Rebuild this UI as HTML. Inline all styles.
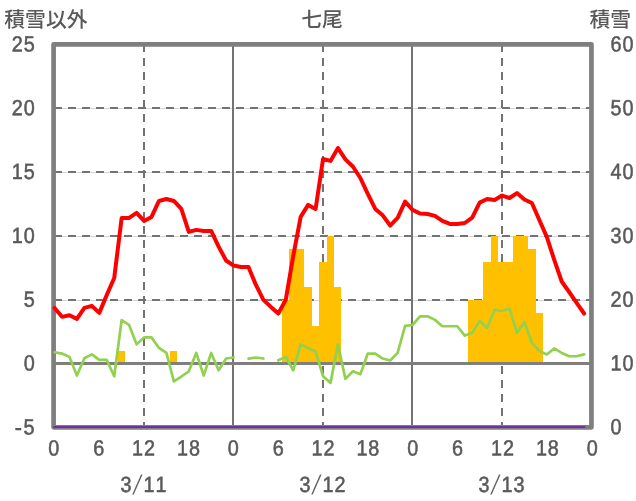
<!DOCTYPE html>
<html lang="ja"><head><meta charset="utf-8"><title>七尾</title>
<style>html,body{margin:0;padding:0;background:#fff}svg{display:block}</style></head>
<body>
<svg width="636" height="501" viewBox="0 0 636 501">
<rect width="636" height="501" fill="#fff"/>
<line x1="54" y1="108.5" x2="591.45" y2="108.5" stroke="#d9d9d9" stroke-width="1"/>
<line x1="54" y1="108" x2="591.45" y2="108" stroke="#737373" stroke-width="2" stroke-dasharray="8 6"/>
<line x1="54" y1="172.5" x2="591.45" y2="172.5" stroke="#d9d9d9" stroke-width="1"/>
<line x1="54" y1="172" x2="591.45" y2="172" stroke="#737373" stroke-width="2" stroke-dasharray="8 6"/>
<line x1="54" y1="236.5" x2="591.45" y2="236.5" stroke="#d9d9d9" stroke-width="1"/>
<line x1="54" y1="236" x2="591.45" y2="236" stroke="#737373" stroke-width="2" stroke-dasharray="8 6"/>
<line x1="54" y1="300.5" x2="591.45" y2="300.5" stroke="#d9d9d9" stroke-width="1"/>
<line x1="54" y1="300" x2="591.45" y2="300" stroke="#737373" stroke-width="2" stroke-dasharray="8 6"/>
<line x1="144" y1="44" x2="144" y2="427.35" stroke="#737373" stroke-width="2" stroke-dasharray="8 6"/>
<line x1="323" y1="44" x2="323" y2="427.35" stroke="#737373" stroke-width="2" stroke-dasharray="8 6"/>
<line x1="502" y1="44" x2="502" y2="427.35" stroke="#737373" stroke-width="2" stroke-dasharray="8 6"/>
<line x1="233" y1="44" x2="233" y2="427.35" stroke="#737373" stroke-width="2"/>
<line x1="412" y1="44" x2="412" y2="427.35" stroke="#737373" stroke-width="2"/>
<path d="M118 364 L118 351 L125 351 L125 364 Z" fill="#ffc000"/>
<path d="M170 364 L170 351 L177 351 L177 364 Z" fill="#ffc000"/>
<path d="M282 364 L282 300 L289 300 L289 249 L297 249 L297 249 L304 249 L304 287 L312 287 L312 326 L319 326 L319 262 L327 262 L327 236 L334 236 L334 287 L341 287 L341 364 Z" fill="#ffc000"/>
<path d="M468 364 L468 300 L476 300 L476 300 L483 300 L483 262 L491 262 L491 236 L498 236 L498 262 L506 262 L506 262 L513 262 L513 236 L520 236 L520 236 L528 236 L528 249 L536 249 L536 313 L543 313 L543 364 Z" fill="#ffc000"/>
<line x1="53.6" y1="363.50" x2="591.45" y2="363.50" stroke="#7f7f7f" stroke-width="3"/>
<rect x="53.6" y="44.4" width="537.85" height="382.95" fill="none" stroke="#7f7f7f" stroke-width="4.7" stroke-linejoin="round"/>
<line x1="54.1" y1="427.0" x2="584.49" y2="427.0" stroke="#7030a0" stroke-width="2.2" stroke-linecap="round"/>
<polyline points="54.55,352.29 62.01,353.56 69.47,356.88 76.92,375.49 84.38,358.28 91.84,354.32 99.30,359.94 106.76,359.94 114.22,376.25 121.67,320.03 129.13,325.00 136.59,344.38 144.05,337.37 151.51,337.37 158.97,347.95 166.42,352.92 173.88,381.48 181.34,376.51 188.80,371.28 196.26,352.92 203.72,375.49 211.17,352.92 218.63,370.26 226.09,358.53 233.55,357.51" fill="none" stroke="#92d050" stroke-width="2.7" stroke-linejoin="round" stroke-linecap="round"/>
<polyline points="248.47,358.66 255.92,357.51 263.38,358.53" fill="none" stroke="#92d050" stroke-width="2.7" stroke-linejoin="round" stroke-linecap="round"/>
<polyline points="278.30,360.32 285.76,356.88 293.22,370.26 300.67,344.38 308.13,347.95 315.59,351.52 323.05,376.25 330.51,382.88 337.97,344.38 345.42,378.93 352.88,371.28 360.34,374.34 367.80,353.56 375.26,353.56 382.72,358.53 390.17,360.44 397.63,352.92 405.09,325.89 412.55,325.00 420.01,316.33 427.47,316.33 434.92,319.90 442.38,326.27 449.84,326.27 457.30,326.27 464.76,335.58 472.21,332.90 479.67,320.92 487.13,327.93 494.59,309.95 502.05,310.98 509.51,308.55 516.96,332.90 524.42,321.94 531.88,342.85 539.34,350.88 546.80,354.45 554.26,348.46 561.71,352.92 569.17,356.24 576.63,356.24 584.09,354.32" fill="none" stroke="#92d050" stroke-width="2.7" stroke-linejoin="round" stroke-linecap="round"/>
<polyline points="54.55,307.92 62.01,316.84 69.47,315.31 76.92,318.88 84.38,307.92 91.84,305.88 99.30,312.89 106.76,294.91 114.22,277.95 121.67,217.90 129.13,217.90 136.59,212.93 144.05,220.96 151.51,216.88 158.97,200.94 166.42,199.03 173.88,200.94 181.34,208.97 188.80,231.92 196.26,229.88 203.72,230.91 211.17,230.91 218.63,246.59 226.09,260.49 233.55,265.58 241.01,266.99 248.47,266.99 255.92,284.97 263.38,299.88 270.84,306.89 278.30,313.52 285.76,299.88 293.22,256.15 300.67,216.88 308.13,204.90 315.59,208.97 323.05,159.00 330.51,160.91 337.97,148.03 345.42,159.38 352.88,166.52 360.34,177.99 367.80,193.93 375.26,208.97 382.72,215.35 390.17,225.55 397.63,217.90 405.09,201.58 412.55,209.87 420.01,213.56 427.47,213.95 434.92,215.86 442.38,220.96 449.84,223.89 457.30,223.89 464.76,223.00 472.21,217.65 479.67,202.60 487.13,199.03 494.59,200.05 502.05,195.59 509.51,198.01 516.96,193.04 524.42,199.54 531.88,202.98 539.34,219.94 546.80,236.90 554.26,259.98 561.71,281.52 569.17,291.98 576.63,302.94 584.09,313.52" fill="none" stroke="#ff0000" stroke-width="4" stroke-linejoin="round" stroke-linecap="round"/>
<g fill="#595959" stroke="#595959" stroke-width="0.55" font-family="'Liberation Sans', 'Noto Sans CJK JP', sans-serif">
<text transform="translate(35.74 51.45) rotate(0.03) scale(0.9 1)" text-anchor="end" font-size="22px" style="letter-spacing:1.05px;font-kerning:none">25</text>
<text transform="translate(35.74 115.28) rotate(0.03) scale(0.9 1)" text-anchor="end" font-size="22px" style="letter-spacing:1.05px;font-kerning:none">20</text>
<text transform="translate(35.74 179.10) rotate(0.03) scale(0.9 1)" text-anchor="end" font-size="22px" style="letter-spacing:1.05px;font-kerning:none">15</text>
<text transform="translate(35.74 242.93) rotate(0.03) scale(0.9 1)" text-anchor="end" font-size="22px" style="letter-spacing:1.05px;font-kerning:none">10</text>
<text transform="translate(35.74 306.75) rotate(0.03) scale(0.9 1)" text-anchor="end" font-size="22px" style="letter-spacing:1.05px;font-kerning:none">5</text>
<text transform="translate(35.74 370.58) rotate(0.03) scale(0.9 1)" text-anchor="end" font-size="22px" style="letter-spacing:1.05px;font-kerning:none">0</text>
<text transform="translate(35.74 434.40) rotate(0.03) scale(0.9 1)" text-anchor="end" font-size="22px" style="letter-spacing:1.05px;font-kerning:none"><tspan font-size="27px" stroke-width="0" dy="1.8" dx="-0.3">-</tspan><tspan dy="-1.8" dx="0.3">5</tspan></text>
<text transform="translate(610.60 434.35) rotate(0.03) scale(0.9 1)" text-anchor="start" font-size="22px" style="letter-spacing:1.05px;font-kerning:none">0</text>
<text transform="translate(610.60 370.53) rotate(0.03) scale(0.9 1)" text-anchor="start" font-size="22px" style="letter-spacing:1.05px;font-kerning:none">10</text>
<text transform="translate(610.60 306.70) rotate(0.03) scale(0.9 1)" text-anchor="start" font-size="22px" style="letter-spacing:1.05px;font-kerning:none">20</text>
<text transform="translate(610.60 242.88) rotate(0.03) scale(0.9 1)" text-anchor="start" font-size="22px" style="letter-spacing:1.05px;font-kerning:none">30</text>
<text transform="translate(610.60 179.05) rotate(0.03) scale(0.9 1)" text-anchor="start" font-size="22px" style="letter-spacing:1.05px;font-kerning:none">40</text>
<text transform="translate(610.60 115.22) rotate(0.03) scale(0.9 1)" text-anchor="start" font-size="22px" style="letter-spacing:1.05px;font-kerning:none">50</text>
<text transform="translate(610.60 51.40) rotate(0.03) scale(0.9 1)" text-anchor="start" font-size="22px" style="letter-spacing:1.05px;font-kerning:none">60</text>
<text transform="translate(54.27 455.55) rotate(0.03) scale(0.9 1)" text-anchor="middle" font-size="22px" style="letter-spacing:1.05px;font-kerning:none">0</text>
<text transform="translate(99.14 455.55) rotate(0.03) scale(0.9 1)" text-anchor="middle" font-size="22px" style="letter-spacing:1.05px;font-kerning:none">6</text>
<text transform="translate(144.01 455.55) rotate(0.03) scale(0.9 1)" text-anchor="middle" font-size="22px" style="letter-spacing:1.05px;font-kerning:none">12</text>
<text transform="translate(188.88 455.55) rotate(0.03) scale(0.9 1)" text-anchor="middle" font-size="22px" style="letter-spacing:1.05px;font-kerning:none">18</text>
<text transform="translate(233.74 455.55) rotate(0.03) scale(0.9 1)" text-anchor="middle" font-size="22px" style="letter-spacing:1.05px;font-kerning:none">0</text>
<text transform="translate(278.61 455.55) rotate(0.03) scale(0.9 1)" text-anchor="middle" font-size="22px" style="letter-spacing:1.05px;font-kerning:none">6</text>
<text transform="translate(323.48 455.55) rotate(0.03) scale(0.9 1)" text-anchor="middle" font-size="22px" style="letter-spacing:1.05px;font-kerning:none">12</text>
<text transform="translate(368.35 455.55) rotate(0.03) scale(0.9 1)" text-anchor="middle" font-size="22px" style="letter-spacing:1.05px;font-kerning:none">18</text>
<text transform="translate(413.22 455.55) rotate(0.03) scale(0.9 1)" text-anchor="middle" font-size="22px" style="letter-spacing:1.05px;font-kerning:none">0</text>
<text transform="translate(458.08 455.55) rotate(0.03) scale(0.9 1)" text-anchor="middle" font-size="22px" style="letter-spacing:1.05px;font-kerning:none">6</text>
<text transform="translate(502.95 455.55) rotate(0.03) scale(0.9 1)" text-anchor="middle" font-size="22px" style="letter-spacing:1.05px;font-kerning:none">12</text>
<text transform="translate(547.82 455.55) rotate(0.03) scale(0.9 1)" text-anchor="middle" font-size="22px" style="letter-spacing:1.05px;font-kerning:none">18</text>
<text transform="translate(592.69 455.55) rotate(0.03) scale(0.9 1)" text-anchor="middle" font-size="22px" style="letter-spacing:1.05px;font-kerning:none">0</text>
<text transform="translate(120.50 492.00) rotate(0.03) scale(0.9 1)" text-anchor="start" font-size="22px" style="letter-spacing:1.05px;font-kerning:none">3</text>
<text stroke-width="0.15" transform="translate(134.60 493.60) skewX(-15.5) scale(1 1.67)" text-anchor="middle" font-size="16px">/</text>
<text transform="translate(143.50 492.00) rotate(0.03) scale(0.9 1)" text-anchor="start" font-size="22px" style="letter-spacing:1.05px;font-kerning:none">11</text>
<text transform="translate(299.50 492.00) rotate(0.03) scale(0.9 1)" text-anchor="start" font-size="22px" style="letter-spacing:1.05px;font-kerning:none">3</text>
<text stroke-width="0.15" transform="translate(313.60 493.60) skewX(-15.5) scale(1 1.67)" text-anchor="middle" font-size="16px">/</text>
<text transform="translate(322.50 492.00) rotate(0.03) scale(0.9 1)" text-anchor="start" font-size="22px" style="letter-spacing:1.05px;font-kerning:none">12</text>
<text transform="translate(478.50 492.00) rotate(0.03) scale(0.9 1)" text-anchor="start" font-size="22px" style="letter-spacing:1.05px;font-kerning:none">3</text>
<text stroke-width="0.15" transform="translate(492.60 493.60) skewX(-15.5) scale(1 1.67)" text-anchor="middle" font-size="16px">/</text>
<text transform="translate(501.50 492.00) rotate(0.03) scale(0.9 1)" text-anchor="start" font-size="22px" style="letter-spacing:1.05px;font-kerning:none">13</text>
</g>
<g fill="#595959" font-family="'Liberation Sans', 'Noto Sans CJK JP', sans-serif" font-size="20.8px" font-weight="500">
<text x="4.3" y="26.8">積雪以外</text>
<text x="322" y="26.8" text-anchor="middle">七尾</text>
<text x="631" y="26.8" text-anchor="end">積雪</text>
</g>
</svg>
</body></html>
